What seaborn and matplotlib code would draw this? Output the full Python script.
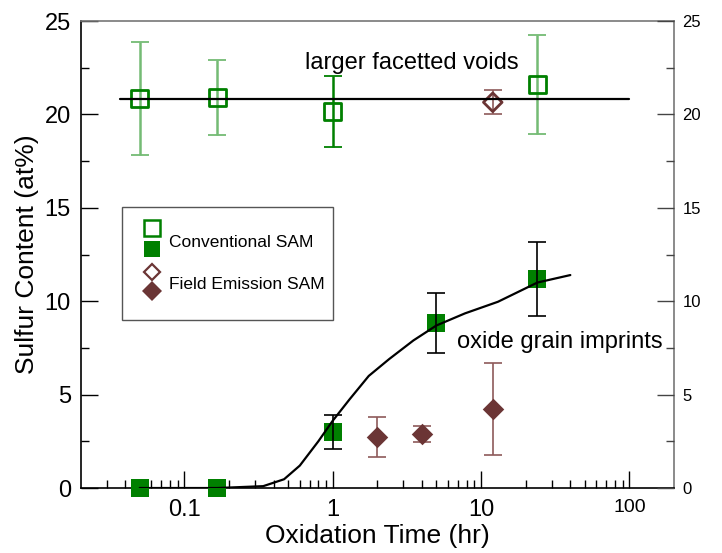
import matplotlib
matplotlib.use("Agg")
import matplotlib.pyplot as plt
import seaborn as sns
import pandas as pd
from matplotlib.patches import Rectangle
from matplotlib.lines import Line2D

# ---------------- data ----------------
open_sq_t = [0.05, 0.167, 1.0, 24.0]
open_sq_s = [20.85, 20.9, 20.15, 21.6]
open_sq_err = [3.0, 2.0, 1.9, 2.65]

fill_sq_t = [0.05, 0.167, 1.0, 5.0, 24.0]
fill_sq_s = [0.0, 0.0, 3.0, 8.83, 11.2]
fill_sq_err = [0.0, 0.0, 0.9, 1.62, 1.97]

open_dia_t = [12.0]
open_dia_s = [20.65]
open_dia_err = [0.65]

fill_dia_t = [2.0, 4.0, 12.0]
fill_dia_s = [2.75, 2.91, 4.23]
fill_dia_err = [1.07, 0.43, 2.45]

plateau_t = [0.037, 100.0]
plateau_s = [20.82, 20.82]

curve_t = [0.05, 0.167, 0.34, 0.47, 0.6, 0.8, 1.0, 1.3, 1.75, 2.4, 3.5, 5.0, 7.8, 13.0, 24.0, 40.0]
curve_s = [0.0, 0.0, 0.1, 0.47, 1.2, 2.5, 3.6, 4.75, 6.0, 6.9, 7.9, 8.7, 9.35, 9.97, 11.0, 11.4]

xtick_vals = [0.1, 1, 10, 100]
xtick_labels = ["0.1", "1", "10", "100"]
ytick_vals = [0, 5, 10, 15, 20, 25]

GREEN = "#008000"
LIGHTGREEN = "#74bb74"
BROWN = "#6b3535"
LIGHTBROWN = "#8e5a5a"

sns.set_style("ticks")
plt.rcParams["font.family"] = ["Liberation Sans", "DejaVu Sans"]
plt.rcParams["text.color"] = "black"
plt.rcParams["axes.labelcolor"] = "black"
plt.rcParams["xtick.color"] = "black"
plt.rcParams["ytick.color"] = "black"

fig = plt.figure(figsize=(7.22, 5.53), dpi=100)
ax = fig.add_axes([0.1118, 0.1175, 0.8217, 0.8445])
ax.set_xscale("log")

# filled squares (markers under their black error bars)
df_fs = pd.DataFrame({"t": fill_sq_t, "s": fill_sq_s})
sns.scatterplot(data=df_fs, x="t", y="s", marker="s", s=150, color=GREEN,
                edgecolor=GREEN, linewidth=0, ax=ax, zorder=3, clip_on=False)
fs_err = [e if e > 0 else float("nan") for e in fill_sq_err]
ax.errorbar(fill_sq_t, fill_sq_s, yerr=fs_err, fmt="none", ecolor="black",
            elinewidth=1.2, capsize=6.4, capthick=1.2, zorder=4)

# open squares
ecols = [LIGHTGREEN, LIGHTGREEN, GREEN, LIGHTGREEN]
for t, s, e, c in zip(open_sq_t, open_sq_s, open_sq_err, ecols):
    ax.errorbar([t], [s], yerr=[e], fmt="none", ecolor=c, elinewidth=1.8,
                capsize=6.5, capthick=1.3, zorder=2)
df_os = pd.DataFrame({"t": open_sq_t, "s": open_sq_s})
sns.scatterplot(data=df_os, x="t", y="s", marker="s", s=150, facecolor="none",
                edgecolor=GREEN, linewidth=2.0, ax=ax, zorder=3)

# open diamond
ax.errorbar(open_dia_t, open_dia_s, yerr=open_dia_err, fmt="none",
            ecolor=LIGHTBROWN, elinewidth=1.2, capsize=6.4, capthick=1.2, zorder=2)
df_od = pd.DataFrame({"t": open_dia_t, "s": open_dia_s})
sns.scatterplot(data=df_od, x="t", y="s", marker="D", s=90, facecolor="none",
                edgecolor=BROWN, linewidth=2.0, ax=ax, zorder=3)

# filled diamonds
ax.errorbar(fill_dia_t, fill_dia_s, yerr=fill_dia_err, fmt="none",
            ecolor=LIGHTBROWN, elinewidth=1.2, capsize=6.4, capthick=1.2, zorder=2)
df_fd = pd.DataFrame({"t": fill_dia_t, "s": fill_dia_s})
sns.scatterplot(data=df_fd, x="t", y="s", marker="D", s=120, color=BROWN,
                edgecolor=BROWN, linewidth=0, ax=ax, zorder=3)

# lines
df_pl = pd.DataFrame({"t": plateau_t, "s": plateau_s})
sns.lineplot(data=df_pl, x="t", y="s", color="black", linewidth=1.6, ax=ax,
             zorder=5, estimator=None, sort=False)
df_cv = pd.DataFrame({"t": curve_t, "s": curve_s})
sns.lineplot(data=df_cv, x="t", y="s", color="black", linewidth=1.6, ax=ax,
             zorder=5, estimator=None, sort=False)

# axes
ax.set_xlim(0.02, 200)
ax.set_ylim(0, 25)
ax.set_xticks(xtick_vals)
ax.set_xticklabels(xtick_labels)
minors = [m * d for d in (0.01, 0.1, 1, 10) for m in range(2, 10)]
minors = [v for v in minors if 0.02 < v < 200]
ax.set_xticks(minors, minor=True)
ax.set_yticks(ytick_vals)
ax.set_yticks([2.5, 7.5, 12.5, 17.5, 22.5], minor=True)
ax.tick_params(axis="both", which="major", direction="in", length=12, width=1.0,
               labelsize=17, colors="black")
ax.tick_params(axis="both", which="minor", direction="in", length=6, width=1.0)
ax.tick_params(axis="x", pad=8)
ax.tick_params(axis="y", pad=7)
ax.get_xticklabels()[3].set_fontsize(14)
ax.set_xlabel("Oxidation Time (hr)", fontsize=19, labelpad=2)
ax.set_ylabel("Sulfur Content (at%)", fontsize=19, labelpad=4)
for sp in ("left", "bottom"):
    ax.spines[sp].set_color("black")
    ax.spines[sp].set_linewidth(1.2)
for sp in ("top", "right"):
    ax.spines[sp].set_color("#777777")
    ax.spines[sp].set_linewidth(1.2)
ax.spines["top"].set_visible(True)
ax.spines["right"].set_visible(True)

ax2 = ax.twinx()
ax2.set_ylim(0, 25)
ax2.set_yticks(ytick_vals)
ax2.set_yticks([2.5, 7.5, 12.5, 17.5, 22.5], minor=True)
ax2.tick_params(axis="y", which="major", direction="in", length=12, width=1.0,
                labelsize=12, colors="#444444", labelcolor="black", pad=6)
ax2.tick_params(axis="y", which="minor", direction="in", length=6, width=1.0,
                colors="#444444")
for sp in ax2.spines.values():
    sp.set_visible(False)

# annotations
ax.text(3.39, 22.75, "larger facetted voids", fontsize=17, ha="center", va="center")
ax.text(33.8, 7.83, "oxide grain imprints", fontsize=17, ha="center", va="center")

# custom legend (two stacked symbols per label)
tr = ax.transAxes
ax.add_patch(Rectangle((0.0701, 0.3597), 0.3546, 0.2413, transform=tr,
                       facecolor="white", edgecolor="#555555", linewidth=1.0,
                       zorder=6))
ax.add_line(Line2D([0.1197], [0.556], transform=tr, marker="s", markersize=11,
                   markerfacecolor="white", markeredgecolor=GREEN,
                   markeredgewidth=1.8, linestyle="none", zorder=7))
ax.add_line(Line2D([0.1197], [0.511], transform=tr, marker="s", markersize=12,
                   markerfacecolor=GREEN, markeredgecolor=GREEN,
                   markeredgewidth=0, linestyle="none", zorder=7))
ax.add_line(Line2D([0.1197], [0.463], transform=tr, marker="D", markersize=8,
                   markerfacecolor="white", markeredgecolor=BROWN,
                   markeredgewidth=1.6, linestyle="none", zorder=7))
ax.add_line(Line2D([0.1197], [0.422], transform=tr, marker="D", markersize=10,
                   markerfacecolor=BROWN, markeredgecolor=BROWN,
                   markeredgewidth=0, linestyle="none", zorder=7))
ax.text(0.149, 0.525, "Conventional SAM", transform=tr, fontsize=12.5,
        ha="left", va="center", zorder=7)
ax.text(0.149, 0.435, "Field Emission SAM", transform=tr, fontsize=12.5,
        ha="left", va="center", zorder=7)

fig.savefig("out.png", dpi=100)
